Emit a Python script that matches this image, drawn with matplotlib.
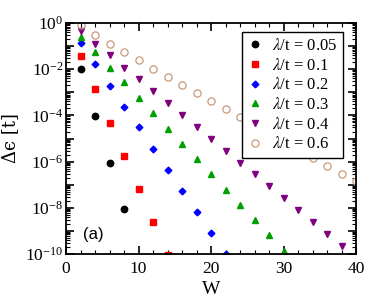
import matplotlib
matplotlib.use("Agg")
import matplotlib.pyplot as plt
from matplotlib.ticker import LogLocator, MultipleLocator, NullFormatter, FuncFormatter
import numpy as np

plt.rcParams['font.family'] = ['Liberation Serif', 'DejaVu Serif']
plt.rcParams['mathtext.fontset'] = 'stix'

W_a = [2, 4, 6, 8]
E_a = [1.0e-2, 9.0e-5, 9.0e-7, 8.5e-9]
W_b = [2, 4, 6, 8, 10, 12, 14]
E_b = [3.6e-2, 1.35e-3, 4.9e-5, 1.8e-6, 6.5e-8, 2.5e-9, 9.5e-11]
W_c = [2, 4, 6, 8, 10, 12, 14, 16, 18, 20, 22]
E_c = [0.135, 0.016, 1.9e-3, 2.4e-4, 3.0e-5, 3.5e-6, 4.5e-7, 5.5e-8, 6.8e-9, 8.3e-10, 1.05e-10]
W_d = [2, 4, 6, 8, 10, 12, 14, 16, 18, 20, 22, 24, 26, 28, 30]
E_d = [0.26, 0.055, 0.0117, 2.7e-3, 5.5e-4, 1.23e-4, 2.6e-5, 5.8e-6, 1.3e-6, 2.8e-7,
       6.1e-8, 1.3e-8, 2.9e-9, 6.4e-10, 1.4e-10]
W_e = [2, 4, 6, 8, 10, 12, 14, 16, 18, 20, 22, 24, 26, 28, 30, 32, 34, 36, 38]
E_e = [0.45, 0.128, 0.04, 0.0117, 3.6e-3, 1.14e-3, 3.3e-4, 1.0e-4, 3.2e-5, 9.2e-6,
       2.9e-6, 9.0e-7, 2.8e-7, 8.7e-8, 2.6e-8, 7.8e-9, 2.4e-9, 7.6e-10, 2.3e-10]
W_f = [2, 4, 6, 8, 10, 12, 14, 16, 18, 20, 22, 24, 34, 36, 38, 40]
E_f = [0.8, 0.31, 0.127, 0.054, 0.024, 0.0105, 4.8e-3, 2.1e-3, 9.1e-4, 4.3e-4,
       1.9e-4, 8.7e-5, 1.4e-6, 6.4e-7, 2.8e-7, 1.5e-7]

labels = ['0.05', '0.1', '0.2', '0.3', '0.4', '0.6']

fig = plt.figure(figsize=(3.78, 3.05), dpi=100)
ax = fig.add_axes([66/378, 1-254/305, 290/378, 231/305])

ax.plot(W_a, E_a, 'o', color='black', ms=4.6, mec='black', label=r'$\lambda$/t = ' + labels[0])
ax.plot(W_b, E_b, 's', color='#ff0000', ms=3.9, mec='#ff0000', label=r'$\lambda$/t = ' + labels[1])
ax.plot(W_c, E_c, 'D', color='#0000ff', ms=3.4, mec='#0000ff', label=r'$\lambda$/t = ' + labels[2])
ax.plot(W_d, E_d, '^', color='#00a000', ms=4.6, mec='#00a000', label=r'$\lambda$/t = ' + labels[3])
ax.plot(W_e, E_e, 'v', color='#800080', ms=4.6, mec='#800080', label=r'$\lambda$/t = ' + labels[4])
ax.plot(W_f, E_f, 'o', mfc='none', mec='#c8987a', mew=0.9, ms=5.2, label=r'$\lambda$/t = ' + labels[5])

ax.set_yscale('log')
ax.set_xlim(0, 40)
ax.set_ylim(1e-10, 1)

ax.xaxis.set_major_locator(MultipleLocator(10))
ax.xaxis.set_minor_locator(MultipleLocator(2))
ax.yaxis.set_major_locator(LogLocator(base=10, numticks=20))
ax.yaxis.set_minor_locator(LogLocator(base=10, subs=np.arange(2, 10), numticks=100))
ax.yaxis.set_minor_formatter(NullFormatter())

def yfmt(v, pos):
    e = int(round(np.log10(v)))
    if e % 2 == 0:
        return r'$\mathregular{10^{%d}}$' % e
    return ''
ax.yaxis.set_major_formatter(FuncFormatter(yfmt))

ax.tick_params(which='both', direction='in', top=True, right=True, labelsize=12.5)
ax.tick_params(which='major', length=6, width=1.2)
ax.tick_params(which='minor', length=3, width=0.8)
ax.tick_params(axis='x', pad=5)
ax.tick_params(axis='y', pad=2)
for s in ax.spines.values():
    s.set_linewidth(1.3)

ax.set_xlabel('W', fontsize=14, labelpad=3)
ax.set_ylabel('Δϵ [t]', fontsize=13, family=['DejaVu Serif'])
ax.yaxis.set_label_coords((19 - 66) / 290, 0.5)

ax.text(0.06, 0.065, '(a)', transform=ax.transAxes, fontsize=12,
        family='Liberation Sans')

leg = ax.legend(loc='upper right', bbox_to_anchor=(0.954, 0.960), borderaxespad=0,
                fontsize=12, fancybox=False, framealpha=1, edgecolor='black',
                handlelength=0.8, handletextpad=0.6, labelspacing=0.22,
                borderpad=0.35, numpoints=1)
leg.get_frame().set_linewidth(1.0)

fig.savefig('out.png', dpi=100)
